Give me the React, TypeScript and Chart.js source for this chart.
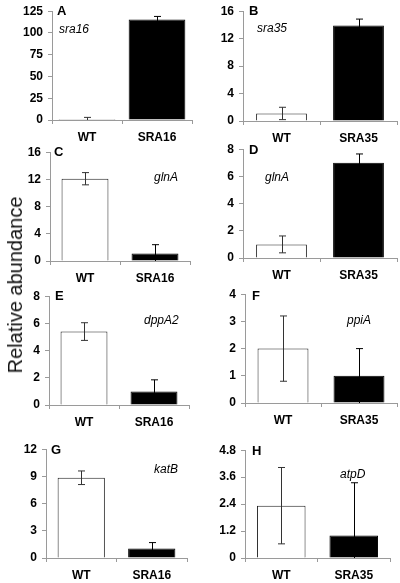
import React, { useEffect, useRef } from "react";
import { Chart, registerables } from "chart.js";

Chart.register(...registerables);

// ---------- data ----------
const categoriesSRA16 = ["WT", "SRA16"];
const categoriesSRA35 = ["WT", "SRA35"];
const panelLetters = ["A", "B", "C", "D", "E", "F", "G", "H"];
const geneNames = ["sra16", "sra35", "glnA", "glnA", "dppA2", "ppiA", "katB", "atpD"];
const wtValues = [1.2, 1.1, 12.1, 1.0, 5.4, 2.0, 8.85, 2.33];
const wtErrors = [1.8, 0.9, 0.9, 0.62, 0.65, 1.2, 0.75, 1.7];
const mutantValues = [115.5, 13.9, 1.1, 7.0, 1.0, 1.0, 1.05, 1.0];
const mutantErrors = [3.5, 0.95, 1.3, 0.65, 0.85, 1.0, 0.65, 2.35];
const yTicksA = [0, 25, 50, 75, 100, 125];
const yTicksB = [0, 4, 8, 12, 16];
const yTicksC = [0, 4, 8, 12, 16];
const yTicksD = [0, 2, 4, 6, 8];
const yTicksE = [0, 2, 4, 6, 8];
const yTicksF = [0, 1, 2, 3, 4];
const yTicksG = [0, 3, 6, 9, 12];
const yTicksH = [0, 1.2, 2.4, 3.6, 4.8];
const yAxisTitle = "Relative abundance";

const yTicksAll = [yTicksA, yTicksB, yTicksC, yTicksD, yTicksE, yTicksF, yTicksG, yTicksH];

// ---------- layout (page coordinates) ----------
const LAYOUT = [
  { l: 52, t: 7, b: 120, r: 192, bar: 0.81, letter: [57, 11], gene: [59, 30] },
  { l: 243, t: 7, b: 121, r: 397, bar: 0.66, letter: [249, 11], gene: [257, 29] },
  { l: 50, t: 148, b: 261, r: 190, bar: 0.67, letter: [54, 152], gene: [154, 178] },
  { l: 243, t: 145, b: 258, r: 397, bar: 0.66, letter: [249, 150], gene: [265, 178] },
  { l: 49, t: 292, b: 405, r: 189, bar: 0.67, letter: [55, 296], gene: [144, 321] },
  { l: 245, t: 290, b: 403, r: 397, bar: 0.67, letter: [252, 296], gene: [347, 321] },
  { l: 46, t: 445, b: 558, r: 187, bar: 0.67, letter: [51, 450], gene: [154, 470] },
  { l: 245, t: 446, b: 558, r: 390, bar: 0.67, letter: [252, 451], gene: [340, 475] },
];

const FONT = "'Liberation Sans', Arial, Helvetica, sans-serif";
const AXIS_GRAY = "#9a9a9a";

const annotatePlugin = {
  id: "annotate",
  afterDatasetsDraw(chart: any, _args: any, opts: any) {
    const ctx = chart.ctx;
    const meta = chart.getDatasetMeta(0);
    const ys = chart.scales.y;
    ctx.save();
    ctx.lineWidth = 1;
    meta.data.forEach((el: any, i: number) => {
      const v = opts.values[i];
      const e = opts.errors[i];
      const x = Math.round(el.x) + 0.5;
      const yT = ys.getPixelForValue(v + e);
      const yB = ys.getPixelForValue(Math.max(v - e, 0));
      ctx.strokeStyle = opts.colors[i];
      ctx.beginPath();
      ctx.moveTo(x, yB);
      ctx.lineTo(x, yT);
      ctx.moveTo(x - 3.5, yT);
      ctx.lineTo(x + 3.5, yT);
      if (v - e > 0) {
        ctx.moveTo(x - 3.5, yB);
        ctx.lineTo(x + 3.5, yB);
      }
      ctx.stroke();
    });
    ctx.restore();
  },
  afterDraw(chart: any, _args: any, opts: any) {
    const ctx = chart.ctx;
    ctx.save();
    ctx.fillStyle = "#000";
    ctx.textBaseline = "middle";
    ctx.textAlign = "left";
    ctx.font = `bold 13px ${FONT}`;
    ctx.fillText(opts.letter, opts.letterPos[0], opts.letterPos[1]);
    ctx.font = `italic 12px ${FONT}`;
    ctx.fillText(opts.gene, opts.genePos[0], opts.genePos[1]);
    ctx.restore();
  },
};

function Panel({ idx }: { idx: number }) {
  const ref = useRef<HTMLCanvasElement | null>(null);
  const L = LAYOUT[idx];
  const col = idx % 2;
  const cx = col === 0 ? 20 : 200;
  const cw = col === 0 ? 180 : 200;
  const cy = L.t - 8;
  const ch = L.b + 26 - cy;

  useEffect(() => {
    if (!ref.current) return;
    const ticks = yTicksAll[idx];
    const cats = col === 0 ? categoriesSRA16 : categoriesSRA35;
    const chart = new Chart(ref.current, {
      type: "bar",
      data: {
        labels: cats,
        datasets: [
          {
            data: [wtValues[idx], mutantValues[idx]],
            backgroundColor: ["#ffffff", "#000000"],
            borderColor: ["#222222", "#000000"],
            borderWidth: 1,
            barPercentage: L.bar,
            categoryPercentage: 1,
          },
        ],
      },
      options: {
        responsive: false,
        animation: false,
        devicePixelRatio: 1,
        layout: { padding: { top: L.t - cy, right: cx + cw - L.r, bottom: 0, left: 0 } },
        plugins: {
          legend: { display: false },
          tooltip: { enabled: false },
          annotate: {
            values: [wtValues[idx], mutantValues[idx]],
            errors: [wtErrors[idx], mutantErrors[idx]],
            colors: ["#333333", "#000000"],
            letter: panelLetters[idx],
            gene: geneNames[idx],
            letterPos: [L.letter[0] - cx, L.letter[1] - cy],
            genePos: [L.gene[0] - cx, L.gene[1] - cy],
          },
        } as any,
        scales: {
          x: {
            grid: {
              display: true,
              drawOnChartArea: false,
              drawTicks: true,
              tickLength: 4,
              color: AXIS_GRAY,
              offset: true,
            },
            border: { color: AXIS_GRAY, width: 1 },
            ticks: {
              color: "#000",
              font: { family: FONT, size: 12, weight: "bold" },
              padding: 6,
              maxRotation: 0,
              autoSkip: false,
            },
            afterFit: (s: any) => {
              s.height = cy + ch - L.b;
            },
          } as any,
          y: {
            min: 0,
            max: ticks[ticks.length - 1],
            grid: {
              display: true,
              drawOnChartArea: false,
              drawTicks: true,
              tickLength: 4,
              color: AXIS_GRAY,
            },
            border: { color: AXIS_GRAY, width: 1 },
            ticks: {
              color: "#000",
              font: { family: FONT, size: 12, weight: "bold" },
              padding: 5,
              callback: (v: any) => String(v),
            },
            afterBuildTicks: (s: any) => {
              s.ticks = ticks.map((v) => ({ value: v }));
            },
            afterFit: (s: any) => {
              s.width = L.l - cx;
            },
          } as any,
        },
      },
      plugins: [annotatePlugin as any],
    });
    return () => chart.destroy();
  }, [idx]);

  return (
    <canvas
      ref={ref}
      width={cw}
      height={ch}
      style={{ position: "fixed", left: cx, top: cy, width: cw, height: ch }}
    />
  );
}

export default function App() {
  return (
    <div style={{ position: "fixed", left: 0, top: 0, width: 400, height: 583, background: "#fff" }}>
      {LAYOUT.map((_, i) => (
        <Panel key={i} idx={i} />
      ))}
      <div
        style={{
          position: "fixed",
          left: 15,
          top: 285,
          transform: "translate(-50%, -50%) rotate(-90deg)",
          fontFamily: FONT,
          fontSize: 20,
          lineHeight: 1,
          whiteSpace: "nowrap",
          color: "#111",
        }}
      >
        {yAxisTitle}
      </div>
    </div>
  );
}
